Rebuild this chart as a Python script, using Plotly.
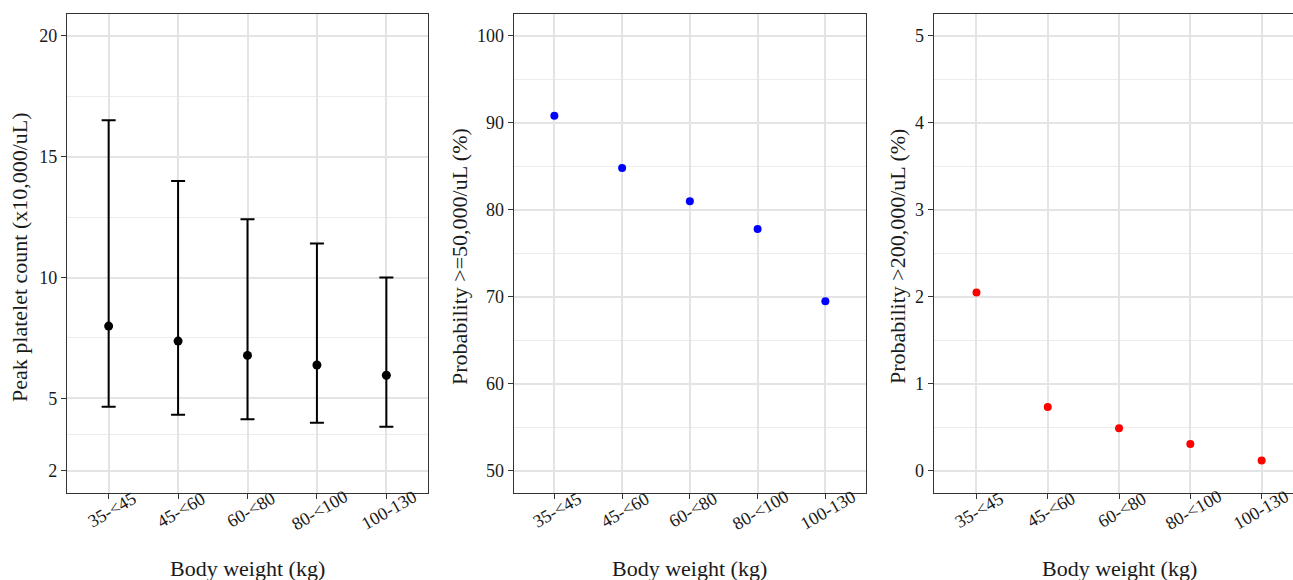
import plotly.graph_objects as go

categories = ["35-<45", "45-<60", "60-<80", "80-<100", "100-130"]
peak_mean = [7.99, 7.37, 6.78, 6.38, 5.96]
peak_lower = [4.66, 4.32, 4.14, 3.99, 3.83]
peak_upper = [16.51, 13.99, 12.41, 11.41, 10.0]
prob_50k = [90.8, 84.8, 81.0, 77.8, 69.5]
prob_200k = [2.05, 0.735, 0.49, 0.31, 0.12]

W, H = 1293, 580
FONT = "Liberation Serif"
GRID = "#E4E4E4"
BORDER = "#333333"
TXT = "#1a1a1a"

def px_x(v):
    return v / W

def px_y(v):
    return 1 - v / H

top, bottom = 14, 492.7
ydom = [px_y(bottom), px_y(top)]

fig = go.Figure()

fig.add_trace(go.Scatter(
    x=categories, y=peak_mean, mode="markers",
    marker=dict(color="black", size=9),
    error_y=dict(type="data", symmetric=False,
                 array=[u - m for u, m in zip(peak_upper, peak_mean)],
                 arrayminus=[m - l for m, l in zip(peak_mean, peak_lower)],
                 color="black", thickness=2, width=7),
    xaxis="x", yaxis="y", showlegend=False))

fig.add_trace(go.Scatter(
    x=categories, y=prob_50k, mode="markers",
    marker=dict(color="#0000FF", size=8),
    xaxis="x2", yaxis="y2", showlegend=False))

fig.add_trace(go.Scatter(
    x=categories, y=prob_200k, mode="markers",
    marker=dict(color="#FF0000", size=8),
    xaxis="x3", yaxis="y3", showlegend=False))

tickfont = dict(family=FONT, size=18, color=TXT)

def xaxis(dom, rng, mirror=True):
    return dict(domain=dom, type="category", range=rng,
                showgrid=True, gridcolor=GRID, gridwidth=1.5,
                showline=True, linecolor=BORDER, linewidth=1.2, mirror=mirror,
                ticks="outside", ticklen=5, tickcolor=BORDER, tickwidth=1,
                showticklabels=False, zeroline=False)

def yaxis(anchor, rng, tickvals, minorvals, mirror=True):
    return dict(domain=ydom, anchor=anchor, range=rng,
                tickvals=tickvals, ticktext=[str(t) for t in tickvals],
                showgrid=True, gridcolor=GRID, gridwidth=1.5,
                minor=dict(tickvals=minorvals, showgrid=True, gridcolor="#ECECEC",
                           gridwidth=1.2, ticks=""),
                showline=True, linecolor=BORDER, linewidth=1.2, mirror=mirror,
                ticks="outside", ticklen=5, tickcolor=BORDER, tickwidth=1,
                tickfont=tickfont, zeroline=False)

fig.update_layout(
    width=W, height=H,
    margin=dict(l=0, r=0, t=0, b=0),
    paper_bgcolor="white", plot_bgcolor="white",
    font=dict(family=FONT, color=TXT),
    xaxis=dict(xaxis([px_x(67), px_x(428)], [-0.6, 4.6]), anchor="y"),
    yaxis=yaxis("x", [1.1, 20.9], [2, 5, 10, 15, 20], [3.5, 7.5, 12.5, 17.5]),
    xaxis2=dict(xaxis([px_x(513.7), px_x(866)], [-0.6, 4.6]), anchor="y2"),
    yaxis2=yaxis("x2", [47.5, 102.5], [50, 60, 70, 80, 90, 100], [55, 65, 75, 85, 95]),
    xaxis3=dict(xaxis([px_x(933.7), 1.0], [-0.6, 4.44]), anchor="y3"),
    yaxis3=yaxis("x3", [-0.25, 5.25], [0, 1, 2, 3, 4, 5], [0.5, 1.5, 2.5, 3.5, 4.5], mirror=False),
)

# rotated category labels, centred under each tick
for xref in ["x", "x2", "x3"]:
    for i, c in enumerate(categories):
        shift = 3
        if xref == "x3" and i == len(categories) - 1:
            shift = -1
        fig.add_annotation(x=c, y=px_y(510), xref=xref, yref="paper",
                           text=c, textangle=-30, showarrow=False,
                           font=tickfont, xanchor="center", yanchor="middle",
                           xshift=shift)

titlefont = dict(family=FONT, size=22, color=TXT)
ycenter = px_y(257)
ytitles = [(20, "Peak platelet count (x10,000/uL)"),
           (460, "Probability >=50,000/uL (%)"),
           (898, "Probability >200,000/uL (%)")]
for xp, t in ytitles:
    fig.add_annotation(x=px_x(xp), y=ycenter, xref="paper", yref="paper",
                       text=t, textangle=-90, showarrow=False, font=titlefont,
                       xanchor="center", yanchor="middle")

xcenters = [(67 + 428) / 2, (513.7 + 866) / 2, (933.7 + 1305) / 2]
for xc in xcenters:
    fig.add_annotation(x=px_x(xc), y=px_y(568), xref="paper", yref="paper",
                       text="Body weight (kg)", showarrow=False, font=titlefont,
                       xanchor="center", yanchor="middle")

fig.write_html("out.html")
